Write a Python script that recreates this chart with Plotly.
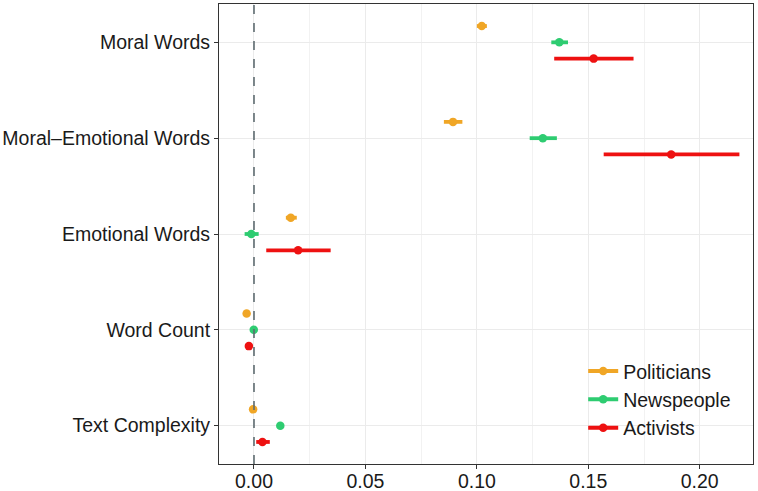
import plotly.graph_objects as go

categories = ["Text Complexity", "Word Count", "Emotional Words", "Moral\u2013Emotional Words", "Moral Words"]
groups = ["Politicians", "Newspeople", "Activists"]
colors = ["#F0A626", "#2ECC71", "#EE1111"]

# estimates, lower and upper bounds (per category, bottom to top)
pol_est = [-0.0004, -0.0033, 0.0165, 0.0893, 0.1022]
pol_lo = [-0.0008, -0.0037, 0.0143, 0.0852, 0.1000]
pol_hi = [0.0000, -0.0029, 0.0192, 0.0935, 0.1045]

news_est = [0.0118, -0.0001, -0.0012, 0.1296, 0.1370]
news_lo = [0.0114, -0.0005, -0.0042, 0.1237, 0.1334]
news_hi = [0.0122, 0.0003, 0.0021, 0.1359, 0.1409]

act_est = [0.0038, -0.0023, 0.0198, 0.1872, 0.1524]
act_lo = [0.0010, -0.0027, 0.0055, 0.1569, 0.1347]
act_hi = [0.0071, -0.0019, 0.0344, 0.2178, 0.1703]

x_ticks = [0.00, 0.05, 0.10, 0.15, 0.20]
x_tick_labels = ["0.00", "0.05", "0.10", "0.15", "0.20"]

series = [
    (groups[0], pol_est, pol_lo, pol_hi, colors[0]),
    (groups[1], news_est, news_lo, news_hi, colors[1]),
    (groups[2], act_est, act_lo, act_hi, colors[2]),
]
dodge = [0.17, 0.0, -0.17]
FONT = "Liberation Sans, Arial, Helvetica"
FS = 19.5

fig = go.Figure()
base_y = list(range(1, len(categories) + 1))
for (name, est, lo, hi, col), off in zip(series, dodge):
    ys = [b + off for b in base_y]
    fig.add_trace(go.Scatter(
        x=est, y=ys, mode="markers",
        marker=dict(color=col, size=8.5),
        error_x=dict(type="data", symmetric=False,
                     array=[h - e for h, e in zip(hi, est)],
                     arrayminus=[e - l for e, l in zip(est, lo)],
                     color=col, thickness=3.8, width=0),
        showlegend=False, name=name,
    ))
for name, est, lo, hi, col in series:
    fig.add_trace(go.Scatter(
        x=[None], y=[None], mode="lines+markers", name=name,
        line=dict(color=col, width=4), marker=dict(color=col, size=8.5),
    ))

fig.add_shape(type="line", xref="x", yref="paper", x0=0, x1=0, y0=0, y1=1,
              line=dict(color="#5E6B70", width=1.6, dash="dash"), layer="above")

fig.update_xaxes(
    range=[-0.0157, 0.2239], tickvals=x_ticks, ticktext=x_tick_labels,
    showgrid=True, gridcolor="#EBEBEB", gridwidth=1,
    minor=dict(dtick=0.025, tick0=0.025, showgrid=True, gridcolor="#F2F2F2", gridwidth=1),
    ticks="outside", ticklen=4, tickcolor="#333333", tickwidth=1,
    showline=True, mirror=True, linecolor="#333333", linewidth=1,
    zeroline=False, automargin=False, ticklabelstandoff=-4,
    tickfont=dict(family=FONT, size=FS, color="#1a1a1a"),
)
fig.update_yaxes(
    range=[0.6, 5.4], tickvals=base_y, ticktext=categories,
    showgrid=True, gridcolor="#EBEBEB", gridwidth=1,
    ticks="outside", ticklen=4, tickcolor="#333333", tickwidth=1,
    showline=True, mirror=True, linecolor="#333333", linewidth=1,
    zeroline=False, automargin=False,
    tickfont=dict(family=FONT, size=FS, color="#1a1a1a"),
)
fig.update_layout(
    width=758, height=491,
    margin=dict(l=219, r=5, t=4, b=27, autoexpand=False),
    plot_bgcolor="white", paper_bgcolor="white",
    legend=dict(x=0.682, y=0.244, xanchor="left", yanchor="top",
                bgcolor="rgba(0,0,0,0)",
                font=dict(family=FONT, size=FS, color="#1a1a1a"),
                itemwidth=30),
)
fig.write_html(
    "out.html",
    config={"displayModeBar": False},
    post_script="document.body.style.margin='0';document.body.style.overflow='hidden';"
                "document.documentElement.style.overflow='hidden';",
)
